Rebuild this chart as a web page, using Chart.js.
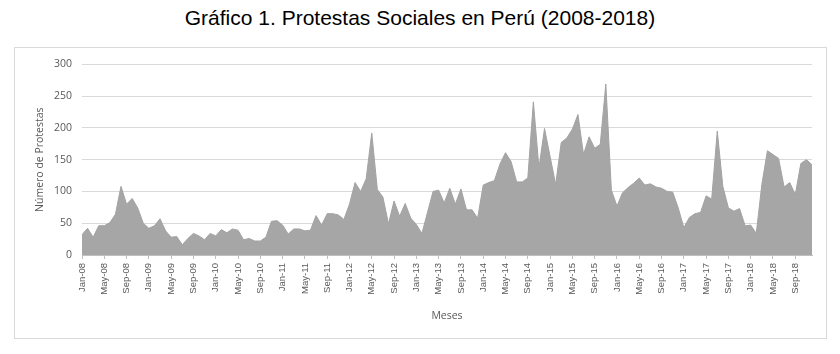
<!DOCTYPE html>
<html>
<head>
<meta charset="utf-8">
<script src="https://cdn.jsdelivr.net/npm/chart.js@4"></script>
<style>
  body { margin: 0; background: #fff; }
  #title {
    position: absolute; left: 0; top: 6px; width: 840px; line-height: 24px;
    text-align: center; font-family: "Liberation Sans", Arial, sans-serif; font-size: 21px; color: #000;
  }
  #frame {
    position: absolute; left: 14px; top: 47px; width: 811px; height: 290px;
    border: 1px solid #d9d9d9;
  }
  #chart { position: absolute; left: 15px; top: 48px; }
</style>
</head>
<body>
<div id="title">Gráfico 1. Protestas Sociales en Perú (2008-2018)</div>
<div id="frame"></div>
<canvas id="chart" width="810" height="289"></canvas>
<script>
// meses de ene-2008 a dic-2018
const monthNames = ["Jan", "Feb", "Mar", "Apr", "May", "Jun", "Jul", "Aug", "Sep", "Oct", "Nov", "Dec"];
const years = ["08", "09", "10", "11", "12", "13", "14", "15", "16", "17", "18"];

// número de protestas por mes
const protestas2008 = [32, 42, 28, 46, 46, 51, 64, 108, 80, 89, 74, 50];
const protestas2009 = [42, 46, 57, 38, 28, 29, 16, 26, 34, 30, 24, 34];
const protestas2010 = [30, 40, 35, 41, 39, 24, 26, 22, 22, 28, 53, 54];
const protestas2011 = [47, 33, 41, 41, 38, 39, 62, 47, 65, 65, 63, 56];
const protestas2012 = [80, 114, 100, 120, 192, 103, 91, 49, 85, 61, 81, 58];
const protestas2013 = [48, 34, 67, 100, 102, 82, 105, 80, 104, 71, 71, 58];
const protestas2014 = [110, 114, 117, 143, 161, 147, 115, 115, 121, 241, 137, 199];
const protestas2015 = [155, 111, 177, 184, 198, 221, 158, 186, 168, 174, 269, 102];
const protestas2016 = [77, 98, 106, 113, 121, 110, 112, 107, 105, 100, 99, 74];
const protestas2017 = [43, 59, 65, 67, 93, 88, 195, 108, 74, 69, 73, 46];
const protestas2018 = [47, 34, 111, 164, 158, 152, 107, 114, 95, 144, 150, 142];

const yTicks = [0, 50, 100, 150, 200, 250, 300];

const labels = [];
years.forEach((y) => monthNames.forEach((m) => labels.push(m + "-" + y)));

const values = [].concat(
  protestas2008, protestas2009, protestas2010, protestas2011, protestas2012, protestas2013,
  protestas2014, protestas2015, protestas2016, protestas2017, protestas2018
);

const tickFont = { family: "'Liberation Sans', Arial, sans-serif", size: 9.5 };
const titleFont = { family: "'Open Sans', sans-serif", size: 10.5 };

new Chart(document.getElementById("chart"), {
  type: "line",
  data: {
    labels: labels,
    datasets: [
      {
        data: values,
        fill: "origin",
        backgroundColor: "#a6a6a6",
        borderColor: "#a3a3a3",
        borderWidth: 1,
        pointRadius: 0,
        tension: 0,
      },
    ],
  },
  options: {
    responsive: false,
    animation: false,
    layout: { padding: { top: 14, right: 13, left: 0, bottom: 0 } },
    plugins: { legend: { display: false }, tooltip: { enabled: false } },
    scales: {
      x: {
        offset: false,
        afterFit: (scale) => { scale.height = 82; },
        grid: { drawOnChartArea: false, tickLength: 4, color: "#bfbfbf" },
        border: { color: "#bfbfbf" },
        ticks: {
          autoSkip: false,
          minRotation: 90,
          maxRotation: 90,
          padding: 4,
          color: "#595959",
          font: tickFont,
          callback: function (val, i) {
            return i % 4 === 0 ? labels[i] : null;
          },
        },
        title: {
          display: true,
          text: "Meses",
          color: "#595959",
          font: titleFont,
          padding: { top: 15, bottom: 15 },
        },
      },
      y: {
        min: yTicks[0],
        max: yTicks[yTicks.length - 1],
        afterFit: (scale) => { scale.width = 67; },
        afterBuildTicks: (scale) => { scale.ticks = yTicks.map((v) => ({ value: v })); },
        grid: { color: "#d9d9d9", drawTicks: false },
        border: { display: false },
        ticks: { padding: 10, color: "#595959", font: { family: "'Open Sans', sans-serif", size: 10.5 } },
        title: {
          display: true,
          text: "Número de Protestas",
          color: "#595959",
          font: titleFont,
          padding: { top: 19, bottom: 0 },
        },
      },
    },
  },
});
</script>
</body>
</html>
